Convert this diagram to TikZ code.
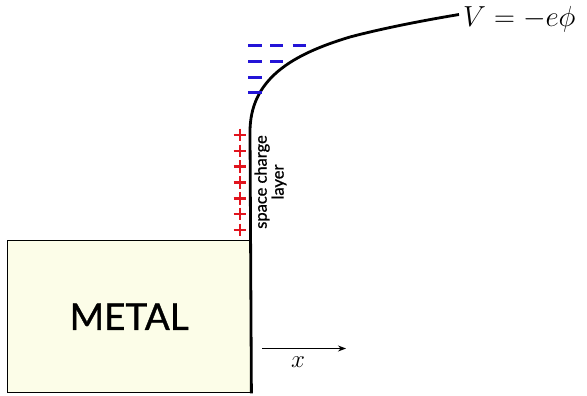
\documentclass[tikz,border=0pt]{standalone}
\usepackage{fix-cm}
\usepackage{fontspec}
\newfontfamily\gillfont{Lato}[FakeBold=1]
\usetikzlibrary{arrows.meta}

\definecolor{metalfill}{RGB}{252,253,232}
\definecolor{chargered}{RGB}{225,20,30}
\definecolor{chargeblue}{RGB}{35,20,215}

\tikzset{
	plusmark/.style={chargered, line width=2.6pt},
	minusmark/.style={chargeblue, line width=2.6pt},
	potential/.style={line width=2.8pt, line join=round}
}

\begin{document}
\begin{tikzpicture}[x=1pt, y=-1pt]

	\useasboundingbox (0,0) rectangle (587,396);

	% --- Metal block ---
	\node[draw, line width=1.4pt, fill=metalfill, anchor=north west,
		minimum width=243pt, minimum height=152pt, inner sep=0pt,
		font=\gillfont\fontsize{37}{42}\selectfont] (metal) at (7,240) {METAL};

	% --- Potential curve ---
	\node[anchor=base west, inner sep=0pt, font=\fontsize{29}{33}\selectfont] (vlabel) at (463,26.5) {$V=-e\phi$};
	\coordinate (vend) at (459,14.5);
	\draw[potential] (metal.south east) -- (250,132)
		.. controls (250,80) and (290,55) .. (350,37)
		.. controls (380,29) and (420,21) .. (vend);

	% --- Positive charges ---
	\foreach \i in {0,...,6} {
		\draw[plusmark] (233.7,135+15.8*\i) -- (246.3,135+15.8*\i);
		\draw[plusmark] (240,128.7+15.8*\i) -- (240,141.3+15.8*\i);
	}

	% --- Negative charges ---
	\foreach \x in {248.3, 270, 292.7} {
		\draw[minusmark] (\x,45.7) -- (\x+13.3,45.7);
	}
	\foreach \x in {248.3, 270} {
		\draw[minusmark] (\x,61.7) -- (\x+13.3,61.7);
	}
	\draw[minusmark] (248.3,77.3) -- (261.6,77.3);
	\draw[minusmark] (248.3,92.7) -- (261.6,92.7);

	% --- Labels ---
	\node[rotate=90, align=center, font=\gillfont\fontsize{16.5}{17}\selectfont] (sclabel) at (270.5,182) {space charge\\layer};

	% --- x direction ---
	\coordinate (xstart) at (262,348.5);
	\coordinate (xend) at (346,348.5);
	\draw[-{Stealth[length=8pt, width=6pt]}, line width=1.1pt] (xstart) -- (xend);
	\node[font=\fontsize{25}{28}\selectfont] (xlabel) at (298,362) {$x$};

\end{tikzpicture}
\end{document}
